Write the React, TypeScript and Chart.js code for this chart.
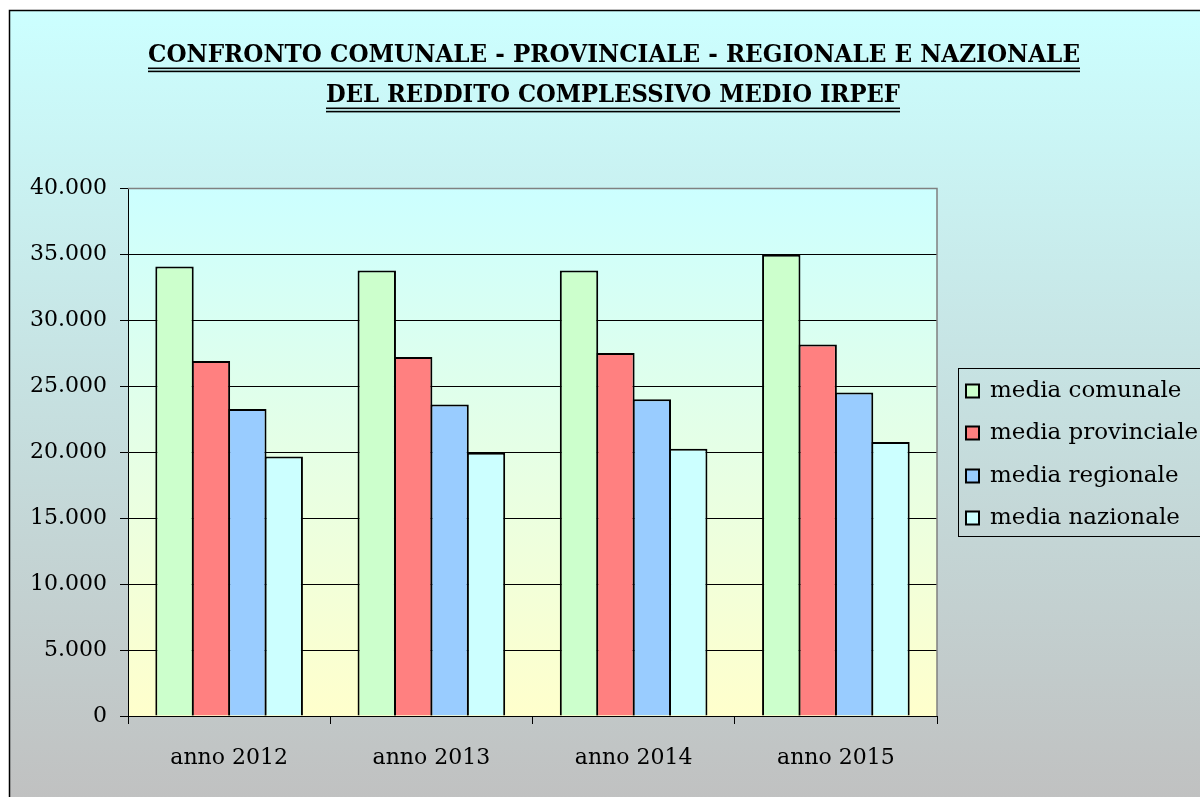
import React, { useEffect, useRef } from 'react';
import { Chart, registerables } from 'chart.js';

Chart.register(...registerables);

const categories = ['anno 2012', 'anno 2013', 'anno 2014', 'anno 2015'];
const seriesNames = ['media comunale', 'media provinciale', 'media regionale', 'media nazionale'];
const mediaComunale = [34050, 33750, 33750, 34950];
const mediaProvinciale = [26900, 27200, 27500, 28150];
const mediaRegionale = [23250, 23600, 24000, 24500];
const mediaNazionale = [19650, 19950, 20250, 20750];
const yMin = 0;
const yMax = 40000;
const yStep = 5000;
const titleLines = [
  'CONFRONTO COMUNALE - PROVINCIALE - REGIONALE E NAZIONALE',
  'DEL REDDITO COMPLESSIVO MEDIO IRPEF',
];
const seriesColors = ['#ccffcc', '#ff8080', '#99ccff', '#ccffff'];

const FONT = '"DejaVu Serif", serif';

function fmt(v: number): string {
  return String(Math.round(v)).replace(/\B(?=(\d{3})+(?!\d))/g, '.');
}

const backgroundPlugin = {
  id: 'bgFrame',
  beforeDraw(chart: any) {
    const { ctx, width, height, chartArea } = chart;
    ctx.save();
    ctx.fillStyle = '#ffffff';
    ctx.fillRect(0, 0, width, height);
    const g = ctx.createLinearGradient(0, 10, 0, 810);
    g.addColorStop(0, '#ccffff');
    g.addColorStop(1, '#c0c0c0');
    ctx.fillStyle = g;
    ctx.fillRect(9, 10, width, height);
    ctx.strokeStyle = '#000';
    ctx.lineWidth = 1.5;
    ctx.beginPath();
    ctx.moveTo(9.5, height + 5);
    ctx.lineTo(9.5, 10.5);
    ctx.lineTo(width + 5, 10.5);
    ctx.stroke();

    const g2 = ctx.createLinearGradient(0, chartArea.top, 0, chartArea.bottom);
    g2.addColorStop(0, '#ccffff');
    g2.addColorStop(1, '#ffffcc');
    ctx.fillStyle = g2;
    ctx.fillRect(chartArea.left, chartArea.top, chartArea.right - chartArea.left, chartArea.bottom - chartArea.top);

    // title
    const drawFitted = (text: string, cx: number, baseline: number, w: number) => {
      ctx.font = 'bold 25px ' + FONT;
      const m = ctx.measureText(text).width;
      ctx.save();
      ctx.translate(cx, baseline);
      ctx.scale(w / m, 1);
      ctx.textAlign = 'center';
      ctx.textBaseline = 'alphabetic';
      ctx.fillStyle = '#000';
      ctx.fillText(text, 0, 0);
      ctx.restore();
    };
    drawFitted(titleLines[0], 614, 61.5, 932);
    ctx.fillStyle = '#000';
    ctx.fillRect(148, 67.5, 932, 1.6);
    ctx.fillRect(148, 70.6, 932, 1.6);
    drawFitted(titleLines[1], 613, 101.5, 574);
    ctx.fillRect(326, 107.5, 574, 1.6);
    ctx.fillRect(326, 110.8, 574, 1.6);
    ctx.restore();
  },
  afterDraw(chart: any) {
    const { ctx, chartArea } = chart;
    ctx.save();
    // plot border top/right (gray)
    ctx.strokeStyle = '#808080';
    ctx.lineWidth = 1.5;
    ctx.beginPath();
    ctx.moveTo(chartArea.left, chartArea.top + 0.5);
    ctx.lineTo(chartArea.right, chartArea.top + 0.5);
    ctx.lineTo(chartArea.right, chartArea.bottom);
    ctx.stroke();

    // legend
    const lx = 958, ly = 368, lh = 168;
    ctx.strokeStyle = '#000';
    ctx.lineWidth = 1;
    ctx.strokeRect(lx + 0.5, ly + 0.5, 320, lh);
    const rows = [391, 433, 476, 518];
    ctx.font = '23px ' + FONT;
    ctx.textBaseline = 'middle';
    ctx.textAlign = 'left';
    chart.data.datasets.forEach((ds: any, i: number) => {
      const cy = rows[i];
      ctx.fillStyle = ds.backgroundColor;
      ctx.fillRect(966, cy - 6.5, 13, 13);
      ctx.strokeStyle = '#000';
      ctx.lineWidth = 2;
      ctx.strokeRect(966, cy - 6.5, 13, 13);
      ctx.fillStyle = '#000';
      ctx.fillText(ds.label, 990, cy);
    });
    ctx.restore();
  },
};

export default function App() {
  const ref = useRef<HTMLCanvasElement | null>(null);
  useEffect(() => {
    if (!ref.current) return;
    const seriesValues = [mediaComunale, mediaProvinciale, mediaRegionale, mediaNazionale];
    const chart = new Chart(ref.current, {
      type: 'bar',
      data: {
        labels: categories,
        datasets: seriesNames.map((name, i) => ({
          label: name,
          data: seriesValues[i],
          backgroundColor: seriesColors[i],
          borderColor: '#000',
          borderWidth: 2,
          categoryPercentage: 0.72,
          barPercentage: 1.055,
          inflateAmount: 0,
        })),
      },
      options: {
        responsive: false,
        animation: false,
        devicePixelRatio: 1,
        layout: { padding: { left: 0, top: 188, right: 263, bottom: 0 } },
        plugins: {
          legend: { display: false },
          title: { display: false },
          tooltip: { enabled: false },
        },
        scales: {
          x: {
            ticks: { color: '#000', font: { family: FONT, size: 22 }, padding: 21, maxRotation: 0 },
            grid: { drawOnChartArea: false, tickLength: 8, color: '#000', offset: true },
            border: { color: '#000', width: 1 },
            afterFit: (s: any) => { s.height = 81; },
          },
          y: {
            min: yMin,
            max: yMax,
            ticks: {
              stepSize: yStep,
              color: '#000',
              font: { family: FONT, size: 22 },
              padding: 13,
              callback: (v: any) => fmt(Number(v)),
            },
            grid: {
              color: (c: any) => (c.tick && c.tick.value === yMax ? '#808080' : '#000'),
              tickColor: '#000',
              tickLength: 8,
              lineWidth: 1,
            },
            border: { color: '#000', width: 1 },
            afterFit: (s: any) => { s.width = 128; },
          },
        },
      },
      plugins: [backgroundPlugin],
    } as any);
    return () => chart.destroy();
  }, []);
  return (
    <div style={{ position: 'fixed', left: 0, top: 0, width: 1200, height: 797 }}>
      <canvas ref={ref} width={1200} height={797} style={{ width: 1200, height: 797, display: 'block' }} />
    </div>
  );
}
